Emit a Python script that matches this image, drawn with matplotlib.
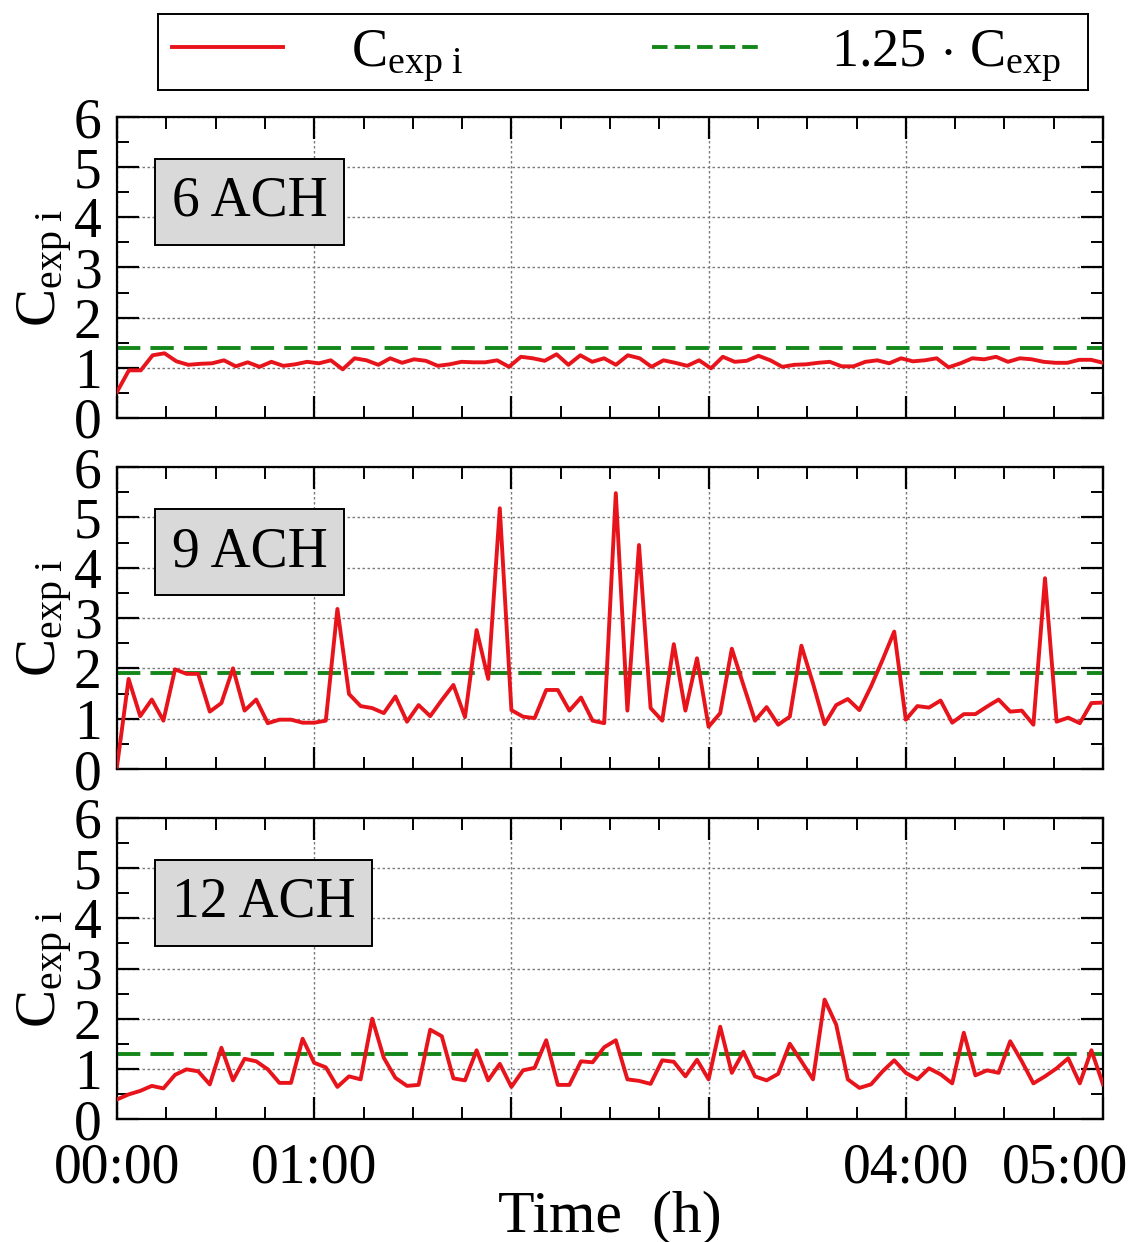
import numpy as np
import matplotlib
matplotlib.use("Agg")
import matplotlib.pyplot as plt
from matplotlib.lines import Line2D
from matplotlib.ticker import MultipleLocator, FixedLocator, FixedFormatter
from matplotlib.transforms import ScaledTranslation

plt.rcParams['font.family'] = ['Liberation Serif', 'DejaVu Serif']
plt.rcParams['mathtext.fontset'] = 'custom'
plt.rcParams['mathtext.rm'] = 'Liberation Serif'
plt.rcParams['mathtext.it'] = 'Liberation Serif:italic'

# ---------------- data ----------------
panel_labels = ["6 ACH", "9 ACH", "12 ACH"]
thresholds = [1.39, 1.91, 1.30]

c_6ach = [0.52, 0.95, 0.95, 1.25, 1.29, 1.13, 1.06, 1.08, 1.09, 1.15, 1.03, 1.11,
          1.02, 1.12, 1.04, 1.07, 1.12, 1.09, 1.15, 0.97, 1.19, 1.15, 1.06, 1.19,
          1.10, 1.17, 1.14, 1.04, 1.07, 1.12, 1.11, 1.11, 1.15, 1.02, 1.22, 1.19,
          1.14, 1.27, 1.06, 1.25, 1.12, 1.19, 1.06,
          1.25, 1.19, 1.02, 1.15, 1.10, 1.04, 1.15, 0.99, 1.22, 1.12, 1.14, 1.24,
          1.15, 1.02, 1.06, 1.07, 1.10, 1.12, 1.03, 1.03, 1.12, 1.15, 1.09, 1.19,
          1.13, 1.15, 1.19, 1.01, 1.09, 1.19, 1.17, 1.22, 1.12, 1.19, 1.17, 1.12,
          1.10, 1.10, 1.16, 1.16, 1.10]

c_9ach = [0.05, 1.79, 1.05, 1.38, 0.96, 1.98, 1.89, 1.89, 1.14, 1.31, 2.00, 1.16,
          1.38, 0.91, 0.98, 0.98, 0.92, 0.92, 0.96, 3.18, 1.49, 1.25, 1.21, 1.11,
          1.44, 0.94, 1.27, 1.05, 1.37, 1.67, 1.03, 2.76, 1.79, 5.18, 1.17, 1.04,
          1.01, 1.57, 1.57, 1.16, 1.42, 0.96, 0.91,
          5.48, 1.16, 4.45, 1.21, 0.96, 2.48, 1.16, 2.20, 0.84, 1.11, 2.39, 1.67,
          0.96, 1.23, 0.88, 1.04, 2.45, 1.70, 0.89, 1.27, 1.39, 1.17, 1.64, 2.17,
          2.73, 0.98, 1.25, 1.22, 1.36, 0.92, 1.09, 1.09, 1.24, 1.38, 1.14, 1.16,
          0.88, 3.79, 0.94, 1.02, 0.91, 1.31, 1.32]

c_12ach = [0.39, 0.49, 0.56, 0.66, 0.61, 0.88, 0.99, 0.95, 0.69, 1.42, 0.77, 1.20,
           1.15, 0.99, 0.72, 0.72, 1.60, 1.12, 1.03, 0.64, 0.85, 0.79, 2.00, 1.22,
           0.82, 0.66, 0.68, 1.78, 1.65, 0.81, 0.77, 1.37, 0.77, 1.10, 0.64, 0.97,
           1.02, 1.57, 0.68, 0.68, 1.15, 1.13, 1.43,
           1.57, 0.79, 0.76, 0.70, 1.17, 1.14, 0.85, 1.18, 0.79, 1.84, 0.92, 1.34,
           0.85, 0.77, 0.90, 1.50, 1.15, 0.79, 2.38, 1.88, 0.79, 0.62, 0.69, 0.95,
           1.17, 0.92, 0.79, 1.01, 0.89, 0.71, 1.72, 0.87, 0.97, 0.92, 1.55, 1.15,
           0.71, 0.85, 1.01, 1.21, 0.71, 1.37, 0.69]

series = [c_6ach, c_9ach, c_12ach]

x_ticks_min = [0, 60, 120, 180, 240, 300]
x_tick_labels = ["00:00", "01:00", "", "", "04:00", "05:00"]
y_ticks = [0, 1, 2, 3, 4, 5, 6]

red = '#e8141c'
green = '#14871a'

# ---------------- figure ----------------
W, H = 1130, 1242
fig = plt.figure(figsize=(W / 100, H / 100), dpi=100)

left = 117 / W
width = 986 / W
tops_bottoms = [(117, 418), (467, 769), (818, 1119)]

axes = []
for i, (top, bot) in enumerate(tops_bottoms):
    ax = fig.add_axes([left, 1 - bot / H, width, (bot - top) / H])
    vals = series[i]
    t = np.linspace(0, 300, len(vals))
    ax.plot(t, vals, color=red, lw=2.8, zorder=3)
    ax.axhline(thresholds[i], color=green, lw=2.8, ls=(0, (6, 2.6)), zorder=2)

    ax.set_xlim(0, 300)
    ax.set_ylim(0, 6)
    ax.xaxis.set_major_locator(FixedLocator(x_ticks_min))
    ax.xaxis.set_minor_locator(MultipleLocator(15))
    ax.yaxis.set_major_locator(FixedLocator(y_ticks))
    ax.yaxis.set_minor_locator(MultipleLocator(0.5))
    if i == 2:
        ax.xaxis.set_major_formatter(FixedFormatter(x_tick_labels))
    else:
        ax.set_xticklabels([])
    ax.tick_params(axis='both', which='both', direction='in', top=True, right=True,
                   color='black')
    ax.tick_params(axis='both', which='major', length=16, width=1.6)
    ax.tick_params(axis='both', which='minor', length=8.5, width=1.4)
    ax.tick_params(axis='y', which='major', labelsize=40, pad=11)
    ax.tick_params(axis='x', which='major', labelsize=40, pad=17)

    ax.grid(True, which='major', color='#7a7a7a', ls=(0, (1.8, 1.8)), lw=1.0, zorder=1)
    for s in ax.spines.values():
        s.set_linewidth(1.6)

    ax.set_ylabel(r'$\mathrm{C}_{\mathrm{exp\ i}}$', fontsize=41)
    ax.yaxis.set_label_coords(-0.043, 0.5)

    ax.text(0.0558, 0.718, panel_labels[i], transform=ax.transAxes, fontsize=40,
            ha='left', va='center', zorder=5,
            bbox=dict(boxstyle='square,pad=0.3', fc='#d9d9d9', ec='black', lw=1.4))
    axes.append(ax)

# shift last x tick label left so it stays inside the figure (as in the reference)
lbls = axes[2].get_xticklabels()
lbls[-1].set_transform(lbls[-1].get_transform() + ScaledTranslation(-0.38, 0, fig.dpi_scale_trans))

axes[2].set_xlabel('Time  (h)', fontsize=43, labelpad=-3)

# legend box
lax = fig.add_axes([158 / W, 1 - 90 / H, 930 / W, 76 / H])
lax.set_xticks([])
lax.set_yticks([])
for s in lax.spines.values():
    s.set_linewidth(1.4)
handles = [Line2D([], [], color=red, lw=2.8),
           Line2D([], [], color=green, lw=2.8, ls=(0, (4.0, 1.8)))]
labels = [r'$\mathrm{C}_{\mathrm{exp\ i}}$', r'$1.25\,\cdot\,\mathrm{C}_{\mathrm{exp}}$']
lax.legend(handles, labels, loc='center left', ncol=2, frameon=False, fontsize=39,
           handlelength=2.05, handletextpad=1.25, columnspacing=3.5,
           borderpad=0, borderaxespad=0,
           bbox_to_anchor=((172 - 158) / 930, 0.45))

fig.savefig('out.png', dpi=100)
